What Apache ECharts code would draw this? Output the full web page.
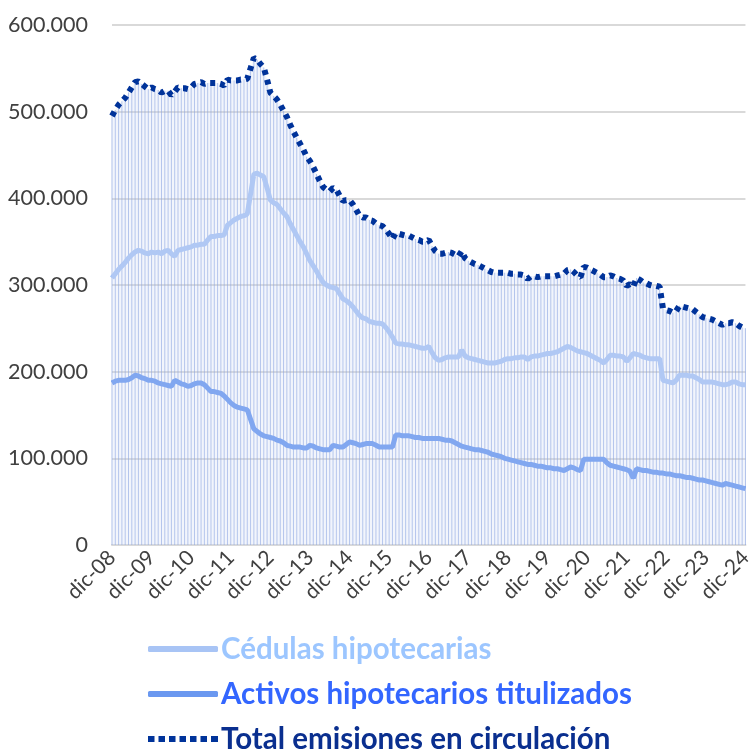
<!DOCTYPE html>
<html>
<head>
<meta charset="utf-8">
<script src="https://cdn.jsdelivr.net/npm/echarts@6/dist/echarts.min.js"></script>
<style>
  html, body { margin: 0; padding: 0; background: #fff; }
  #chart { width: 755px; height: 749px; }
</style>
</head>
<body>
<div id="chart"></div>
<script>
// meses (dic-08 .. dic-24), miles de euros
var meses = ['ene', 'feb', 'mar', 'abr', 'may', 'jun', 'jul', 'ago', 'sep', 'oct', 'nov', 'dic'];
var categorias = ['dic-08'];
for (var a = 9; a <= 24; a++) {
    for (var m = 0; m < 12; m++) {
        categorias.push(meses[m] + '-' + (a < 10 ? '0' + a : a));
    }
}

var yTicks = [0, 100, 200, 300, 400, 500, 600];

var cedulas = [
    308, 313, 318, 322, 326, 331, 335, 338, 340, 339, 337, 336, 338,
    337, 338, 336, 339, 340, 336, 333, 340, 341, 342, 343, 344,
    346, 346, 347, 347, 352, 356, 356, 357, 357, 358, 369, 372,
    375, 377, 379, 380, 382, 405, 428, 429, 427, 425, 412, 398,
    395, 393, 388, 383, 379, 371, 364, 357, 350, 344, 336, 328,
    322, 316, 309, 303, 300, 298, 297, 296, 290, 284, 282, 279,
    275, 270, 265, 262, 261, 258, 257, 256, 256, 255, 251, 246,
    240, 233, 232, 232, 231, 231, 230, 229, 228, 227, 227, 229,
    222, 216, 213, 214, 216, 217, 217, 217, 217, 225, 218, 216,
    215, 214, 213, 212, 211, 210, 210, 210, 211, 212, 214, 215,
    215, 216, 216, 217, 217, 214, 217, 218, 218, 219, 220, 221,
    221, 222, 223, 225, 227, 229, 228, 226, 224, 223, 222, 221,
    219, 217, 215, 213, 210, 214, 219, 219, 218, 218, 217, 212,
    216, 221, 220, 219, 217, 216, 215, 215, 215, 215, 190, 189,
    188, 187, 190, 196, 196, 196, 195, 195, 193, 191, 188, 188,
    188, 188, 187, 186, 185, 185, 186, 188, 188, 186, 185, 185
];

var activos = [
    187, 189, 190, 190, 190, 191, 193, 196, 195, 193, 192, 190, 190,
    189, 187, 186, 185, 184, 183, 190, 188, 186, 185, 183, 184,
    186, 187, 187, 185, 181, 177, 177, 176, 175, 172, 168, 164,
    161, 159, 158, 157, 156, 145, 134, 131, 128, 126, 125, 124,
    123, 121, 120, 118, 115, 114, 113, 113, 113, 112, 112, 115,
    114, 112, 111, 110, 110, 110, 115, 114, 113, 113, 116, 119,
    118, 117, 115, 116, 117, 117, 117, 115, 113, 113, 113, 113,
    113, 127, 127, 126, 126, 126, 125, 124, 124, 123, 123, 123,
    123, 123, 123, 122, 121, 121, 120, 118, 116, 114, 113, 112,
    111, 110, 110, 109, 108, 107, 105, 104, 103, 102, 100, 99,
    98, 97, 96, 95, 94, 93, 93, 92, 91, 91, 90, 89,
    89, 88, 88, 87, 86, 88, 90, 89, 87, 86, 99, 99,
    99, 99, 99, 99, 99, 95, 92, 91, 90, 89, 88, 87,
    85, 77, 88, 87, 86, 86, 85, 84, 84, 83, 83, 82,
    82, 81, 80, 80, 79, 78, 78, 77, 76, 75, 75, 74,
    73, 72, 71, 70, 69, 71, 70, 69, 68, 67, 66, 65
];

// total = cédulas + titulizados
var total = cedulas.map(function (v, i) { return v + activos[i]; });

var nombres = ['Cédulas hipotecarias', 'Activos hipotecarios titulizados', 'Total emisiones en circulación'];
var coloresTexto = ['#9cc6ff', '#3366ff', '#0a2f8f'];

// icono punteado para la leyenda del total
var iconoPuntos = 'path://M0,0h6.5v6h-6.5z M10.5,0h6.5v6h-6.5z M21,0h6.5v6h-6.5z M31.5,0h6.5v6h-6.5z ' +
    'M42,0h6.5v6h-6.5z M52.5,0h6.5v6h-6.5z M63,0h7v6h-7z';
var iconos = ['roundRect', 'roundRect', iconoPuntos];
var topsLeyenda = [629, 674, 719];

var leyendas = nombres.map(function (n, i) {
    return {
        orient: 'horizontal',
        left: 143,
        top: topsLeyenda[i],
        itemWidth: 70,
        itemHeight: 6,
        itemGap: 0,
        selectedMode: false,
        textStyle: { fontFamily: 'Lato', fontWeight: 'bold', fontSize: 29.5, color: coloresTexto[i], padding: [0, 0, 0, -2] },
        data: [{ name: n, icon: iconos[i] }]
    };
});

var myChart = echarts.init(document.getElementById('chart'));

var option = {
    animation: false,
    grid: { left: 112, right: 3, top: 25, bottom: 204 },
    legend: leyendas,
    xAxis: {
        type: 'category',
        boundaryGap: false,
        data: categorias,
        axisLine: { lineStyle: { color: '#d9d9d9', width: 2 } },
        axisTick: { show: false },
        axisLabel: {
            interval: 11,
            rotate: 45,
            margin: 9,
            color: '#404040',
            fontFamily: 'Lato',
            fontSize: 21
        }
    },
    yAxis: {
        type: 'value',
        min: yTicks[0],
        max: yTicks[yTicks.length - 1],
        interval: 100,
        axisLine: { show: false },
        axisTick: { show: false },
        splitLine: { lineStyle: { color: '#d9d9d9', width: 2 } },
        axisLabel: {
            margin: 24,
            color: '#404040',
            fontFamily: 'Lato',
            fontSize: 21.5,
            formatter: function (v) { return v === 0 ? '0' : v + '.000'; }
        }
    },
    series: [
        {
            // líneas de caída
            name: 'caida',
            type: 'bar',
            data: total,
            barWidth: 1,
            silent: true,
            itemStyle: { color: 'rgba(120,150,220,0.6)' },
            z: 1
        },
        {
            name: nombres[0],
            type: 'line',
            data: cedulas,
            symbol: 'none',
            lineStyle: { color: '#a8c4f5', width: 5 },
            itemStyle: { color: '#a8c4f5' },
            z: 3
        },
        {
            name: nombres[1],
            type: 'line',
            data: activos,
            symbol: 'none',
            lineStyle: { color: '#6a98f0', width: 5 },
            itemStyle: { color: '#6a98f0' },
            z: 3
        },
        {
            name: nombres[2],
            type: 'line',
            data: total,
            symbol: 'none',
            lineStyle: { color: '#00339a', width: 6, type: [5, 5], cap: 'butt' },
            itemStyle: { color: '#00339a' },
            areaStyle: { color: 'rgba(200,214,244,0.35)', origin: 'start' },
            z: 4
        }
    ]
};

myChart.setOption(option);
</script>
</body>
</html>
